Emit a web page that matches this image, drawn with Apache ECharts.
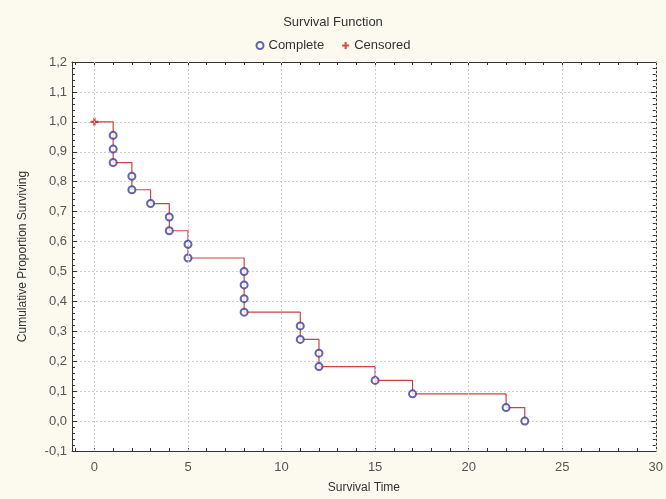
<!DOCTYPE html>
<html>
<head>
<meta charset="utf-8">
<script src="https://cdn.jsdelivr.net/npm/echarts@6/dist/echarts.min.js"></script>
<style>
    html, body {margin: 0; padding: 0; background: #fcf9ee;}
    #chart {width: 666px; height: 499px;}
</style>
</head>
<body>
<div id="chart"></div>
<script>
// 生存时间与累计生存比例 (n = 22)
var eventTimes = [1, 1, 1, 2, 2, 3, 4, 4, 5, 5, 8, 8, 8, 8, 11, 11, 12, 12, 15, 17, 22, 23];
var eventSurv = [0.955, 0.909, 0.864, 0.818, 0.773, 0.727, 0.682, 0.636, 0.591, 0.545,
    0.500, 0.455, 0.409, 0.364, 0.318, 0.273, 0.227, 0.182, 0.136, 0.091, 0.045, 0.000];
var stepTimes = [0, 1, 2, 3, 4, 5, 8, 11, 12, 15, 17, 22, 23];
var stepSurv = [1.0, 0.864, 0.773, 0.727, 0.636, 0.545, 0.364, 0.273, 0.182, 0.136, 0.091, 0.045, 0.0];
var censoredTimes = [0];
var censoredSurv = [1.0];
var xLabels = [0, 5, 10, 15, 20, 25, 30];
var xMinor = [-1, 0, 1, 2, 3, 4, 5, 6, 7, 8, 9, 10, 11, 12, 13, 14, 15, 16, 17, 18, 19, 20,
    21, 22, 23, 24, 25, 26, 27, 28, 29, 30];

var font = 'Liberation Sans, Arial, sans-serif';
var plusPath = 'path://M3.5,0H6.5V3.5H10V6.5H6.5V10H3.5V6.5H0V3.5H3.5Z';

function zip(a, b) {
    var out = [];
    for (var i = 0; i < a.length; i++) out.push([a[i], b[i]]);
    return out;
}

var myChart = echarts.init(document.getElementById('chart'));

var frameLine = {show: true, onZero: false, lineStyle: {color: '#333', width: 1}};

var option = {
    backgroundColor: '#fcf9ee',
    animation: false,
    textStyle: {fontFamily: font},
    title: {
        text: 'Survival Function',
        left: 'center',
        top: 11,
        textStyle: {fontSize: 13, fontWeight: 'normal', color: '#333', fontFamily: font}
    },
    legend: {
        top: 34,
        left: 'center',
        itemGap: 18,
        itemWidth: 7,
        itemHeight: 7,
        textStyle: {fontSize: 13, color: '#333', fontFamily: font},
        data: [
            {name: 'Complete', icon: 'emptyCircle'},
            {name: 'Censored', icon: plusPath}
        ]
    },
    grid: {
        left: 72, right: 7, top: 62, bottom: 47,
        show: true, backgroundColor: '#ffffff', borderWidth: 0
    },
    xAxis: [{
        type: 'value',
        min: -1.2,
        max: 30,
        name: 'Survival Time',
        nameLocation: 'middle',
        nameGap: 31,
        nameTextStyle: {fontSize: 12, color: '#333'},
        axisLine: frameLine,
        axisTick: {show: true, inside: true, length: 3, customValues: xMinor, lineStyle: {color: '#333'}},
        axisLabel: {customValues: xLabels, fontSize: 13, color: '#555', margin: 10},
        splitLine: {show: false}
    }, {
        type: 'value',
        position: 'top',
        min: -1.2,
        max: 30,
        axisLine: frameLine,
        axisTick: {show: true, inside: true, length: 3, customValues: xMinor, lineStyle: {color: '#333'}},
        axisLabel: {show: false},
        splitLine: {show: false}
    }],
    yAxis: [{
        type: 'value',
        min: -0.1,
        max: 1.2,
        interval: 0.1,
        name: 'Cumulative Proportion Surviving',
        nameLocation: 'middle',
        nameGap: 43,
        nameTextStyle: {fontSize: 12, color: '#333'},
        axisLine: frameLine,
        axisTick: {show: true, inside: true, length: 5, lineStyle: {color: '#333'}},
        minorTick: {show: true, splitNumber: 5, length: 3, lineStyle: {color: '#333'}},
        axisLabel: {
            fontSize: 13, color: '#555', margin: 5,
            formatter: function (v) { return v.toFixed(1).replace('.', ','); }
        },
        splitLine: {show: true, lineStyle: {color: '#cfcfcf', type: [2, 2]}}
    }, {
        type: 'value',
        position: 'right',
        min: -0.1,
        max: 1.2,
        interval: 0.1,
        axisLine: frameLine,
        axisTick: {show: true, inside: true, length: 5, lineStyle: {color: '#333'}},
        minorTick: {show: true, splitNumber: 5, length: 3, lineStyle: {color: '#333'}},
        axisLabel: {show: false},
        splitLine: {show: false}
    }],
    series: [{
        name: 'step',
        type: 'line',
        step: 'end',
        data: zip(stepTimes, stepSurv),
        showSymbol: false,
        symbol: 'none',
        lineStyle: {color: '#d04040', width: 1.2},
        silent: true,
        markLine: {
            silent: true,
            symbol: 'none',
            label: {show: false},
            lineStyle: {color: '#cfcfcf', type: [2, 2], width: 1},
            data: xLabels.map(function (v) { return {xAxis: v}; })
        },
        z: 2
    }, {
        name: 'Complete',
        type: 'scatter',
        data: zip(eventTimes, eventSurv),
        symbol: 'emptyCircle',
        symbolSize: 7,
        itemStyle: {color: '#3c3c9c', borderWidth: 1},
        z: 3
    }, {
        name: 'Censored',
        type: 'scatter',
        data: zip(censoredTimes, censoredSurv),
        symbol: plusPath,
        symbolSize: 8,
        itemStyle: {color: '#cc2222'},
        z: 4
    }]
};

myChart.setOption(option);
</script>
</body>
</html>
